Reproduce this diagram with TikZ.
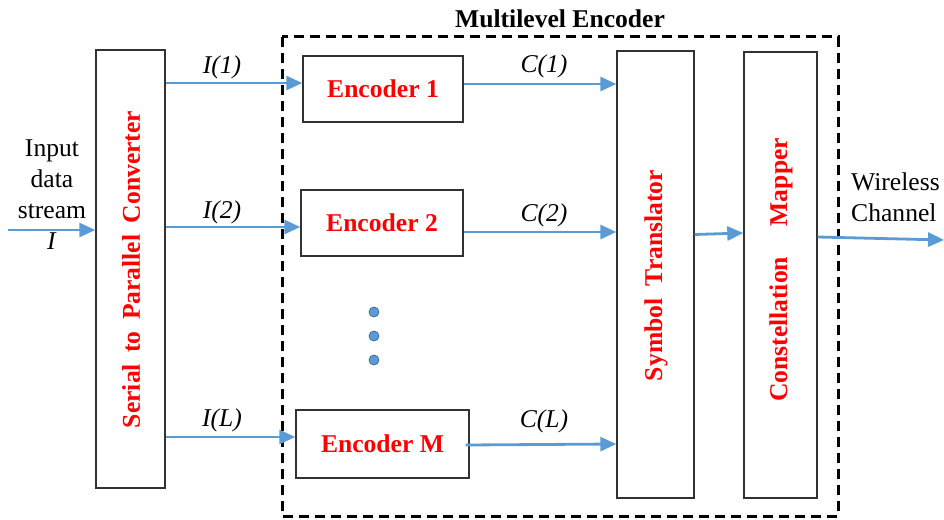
\documentclass[tikz,border=0pt]{standalone}
\usepackage{fontspec}
\setmainfont{Liberation Serif}
\usetikzlibrary{arrows.meta,calc}
\definecolor{arrblue}{RGB}{91,155,213}
\definecolor{dotedge}{RGB}{65,113,156}
\definecolor{boxgray}{RGB}{50,50,50}
\begin{document}
\begin{tikzpicture}[x=1pt,y=1pt,
  every node/.style={font=\fontsize{25.6}{31}\selectfont, inner sep=0pt},
  blk/.style={draw=boxgray, line width=1.4pt, minimum width=#1},
  redtxt/.style={text=red, font=\fontsize{25.6}{31}\selectfont\bfseries},
  arr/.style={draw=arrblue, line width=2.8pt, -{Triangle[length=16pt,width=14pt]}},
  lbl/.style={font=\fontsize{25.6}{31}\selectfont\itshape},
  bluedot/.style={circle, fill=arrblue, draw=dotedge, line width=0.8pt, minimum size=10pt}
]
\useasboundingbox (0,0) rectangle (944,-519);

% dashed multilevel encoder frame
\draw[line width=3pt, dash pattern=on 10pt off 6pt] (282,-37) rectangle (838,-516);
\node[font=\fontsize{25.6}{31}\selectfont\bfseries] (title) at (560,-19) {Multilevel Encoder};

% blocks
\node[blk=69pt, minimum height=438pt] (sp) at (130.5,-269) {};
\node[redtxt, rotate=90] (sptxt) at (131,-269.5) {Serial\hspace{5pt} to\hspace{5pt} Parallel\hspace{5pt} Converter};

\node[blk=160pt, minimum height=66pt, redtxt] (enc1) at (383,-89) {Encoder 1};
\node[blk=162pt, minimum height=66pt, redtxt] (enc2) at (382,-223) {Encoder 2};
\node[blk=173pt, minimum height=68pt, redtxt] (encM) at (382.5,-444) {Encoder M};

\node[blk=77pt, minimum height=447pt] (st) at (655.5,-274.5) {};
\node[redtxt, rotate=90] (sttxt) at (656,-275.5) {Symbol\hspace{6pt} Translator};

\node[blk=73pt, minimum height=446pt] (cm) at (780.5,-275) {};
\node[redtxt, rotate=90] (cmtxt) at (781,-270) {Constellation\hspace{1.2em}Mapper};

% dots
\node[bluedot] (d1) at (374,-312) {};
\node[bluedot] (d2) at (374,-336) {};
\node[bluedot] (d3) at (374,-360) {};

% input
\node[align=center] (intxt) at (52,-195) {Input\\data\\stream\\\textit{I}};
\coordinate (in) at (8,-230);
\draw[arr] (in) -- (in -| sp.west);

% outputs of serial to parallel
\draw[arr] ([yshift=6pt]enc1.west -| sp.east) -- ([yshift=6pt]enc1.west);
\draw[arr] ([yshift=-4pt]enc2.west -| sp.east) -- ([yshift=-4pt]enc2.west);
\draw[arr] ([yshift=7pt]encM.west -| sp.east) -- ([yshift=7pt]encM.west);
\node[lbl] (i1) at (222,-67) {I(1)};
\node[lbl] (i2) at (222,-212) {I(2)};
\node[lbl] (iL) at (222,-420) {I(L)};

% encoders to symbol translator
\draw[arr] ([yshift=5pt]enc1.east) -- ([yshift=5pt]enc1.east -| st.west);
\draw[arr] ([yshift=-9pt]enc2.east) -- ([yshift=-9pt]enc2.east -| st.west);
\draw[arr] ([yshift=-1pt,xshift=-4pt]encM.east) -- ([yshift=0pt]encM.east -| st.west);
\node[lbl] (c1) at (544,-66) {C(1)};
\node[lbl] (c2) at (544,-215) {C(2)};
\node[lbl] (cL) at (544,-421) {C(L)};

% translator to mapper
\draw[arr] ([yshift=40pt]st.east) -- ([yshift=42pt]cm.west);

% output
\coordinate (out) at (944,-240);
\draw[arr] ([yshift=38pt]cm.east) -- (out);
\node[align=left, anchor=west] (wc) at (851,-197) {Wireless\\Channel};
\end{tikzpicture}
\end{document}
